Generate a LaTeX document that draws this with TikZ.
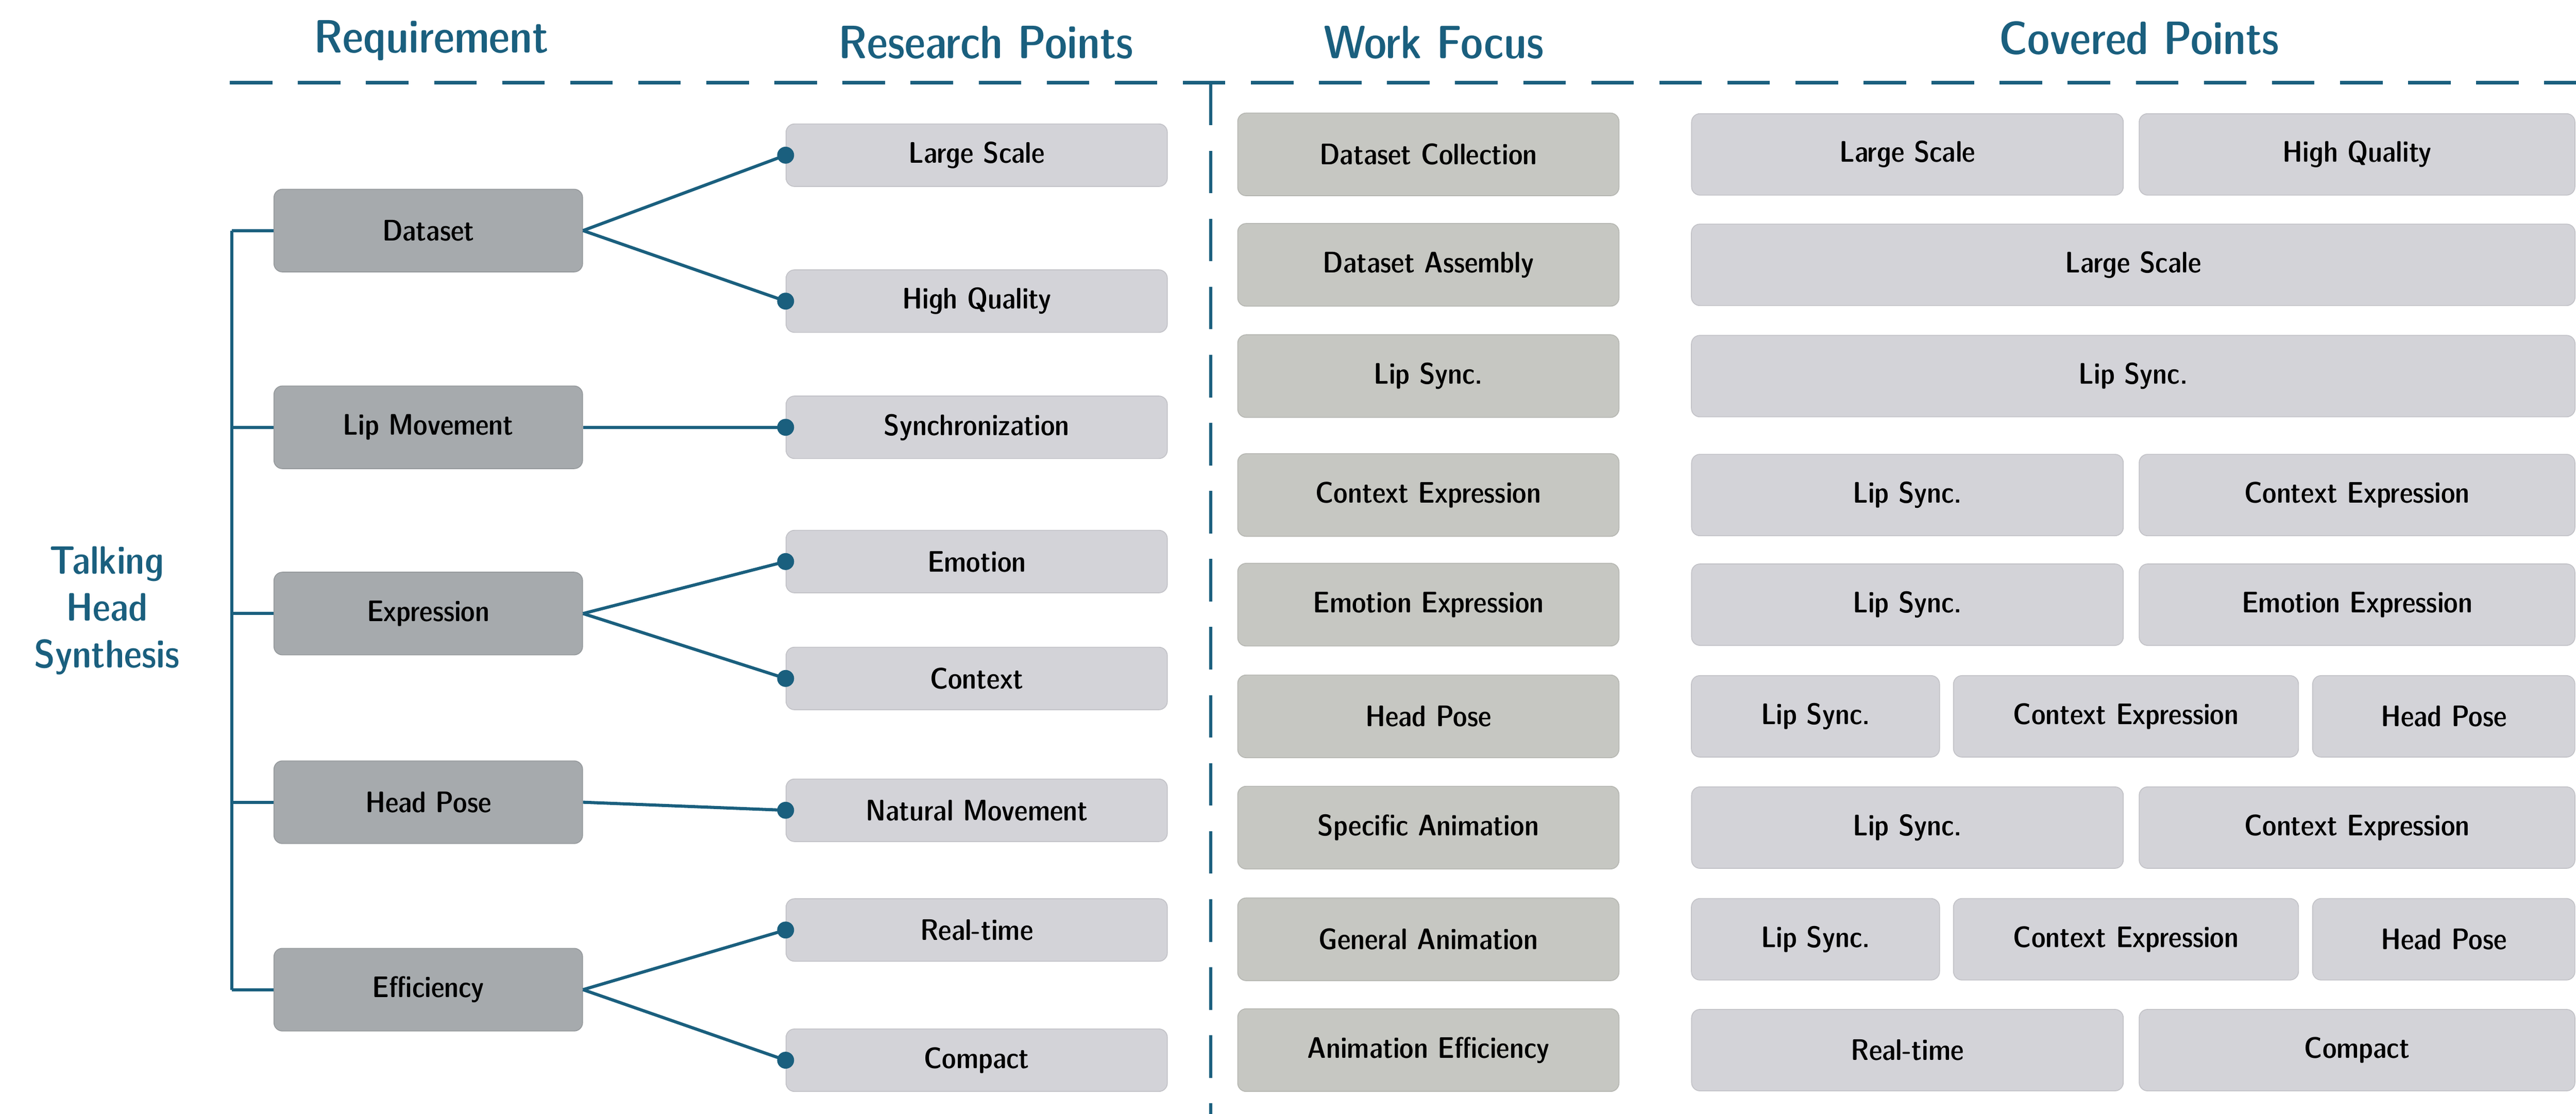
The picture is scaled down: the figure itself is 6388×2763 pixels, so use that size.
\documentclass[tikz,border=0pt]{standalone}
\usepackage{xcolor}
\usepackage{tikz}
\usetikzlibrary{positioning}

\definecolor{teal1}{HTML}{1A5F7E}
\definecolor{reqgray}{HTML}{A6AAAD}
\definecolor{ptgray}{HTML}{D3D3D8}
\definecolor{wkgray}{HTML}{C6C7C2}

\tikzset{
    box/.style={rounded corners=6pt, inner sep=0pt, align=center,
        font=\fontsize{21}{25}\sffamily\fontseries{sbc}\selectfont},
    reqbox/.style={box, fill=reqgray, draw=reqgray!90!black, line width=0.6pt,
        minimum width=7.65cm, minimum height=2.05cm},
    ptbox/.style={box, fill=ptgray, draw=ptgray!92!black, line width=0.6pt,
        minimum width=9.45cm, minimum height=1.55cm},
    wkbox/.style={box, fill=wkgray, draw=wkgray!92!black, line width=0.6pt,
        minimum width=9.45cm, minimum height=2.05cm},
    covbox/.style={box, fill=ptgray, draw=ptgray!92!black, line width=0.6pt,
        minimum height=2.02cm},
    header/.style={text=teal1, font=\fontsize{33}{38}\sffamily\fontseries{sbc}\selectfont},
    link/.style={teal1, line width=2.2pt},
    dot/.style={circle, fill=teal1, inner sep=0pt, minimum size=0.42cm}
}

\begin{document}
\begin{tikzpicture}[x=0.01cm,y=-0.01cm]
    \useasboundingbox (0,0) rectangle (6388,2763);
    % headers
    \node[header] (hreq) at (1070,100) {Requirement};
    \node[header] (hres) at (2445,105) {Research Points};
    \node[header] (hwork) at (3555,105) {Work Focus};
    \node[header] (hcov) at (5305,95) {Covered Points};
    \coordinate (hl) at (570,205);
    \coordinate (hr) at (6388,205);
    \coordinate (vt) at (3002,205);
    \coordinate (vb) at (3002,2763);
    \draw[teal1, line width=2.8pt, dash pattern=on 30pt off 18pt] (hl) -- (hr);
    \draw[teal1, line width=2pt, dash pattern=on 30pt off 18pt] (vt) -- (vb);

    % root
    \node[text=teal1, align=center, font=\fontsize{28}{33}\sffamily\fontseries{sbc}\selectfont]
        (root) at (265,1515) {Talking\\Head\\Synthesis};

    % requirements
    \node[reqbox] (dataset) at (1062,572) {Dataset};
    \node[reqbox] (lip) at (1062,1060) {Lip Movement};
    \node[reqbox] (expr) at (1062,1522) {Expression};
    \node[reqbox] (pose) at (1062,1990) {Head Pose};
    \node[reqbox] (eff) at (1062,2455) {Efficiency};
    \coordinate (trtop) at (575,572);
    \coordinate (trbot) at (575,2455);
    \draw[link] (trtop) -- (trbot);
    \foreach \r in {dataset,lip,expr,pose,eff}
        \draw[link] (\r.west) -- (\r.west -| trtop);

    % research points
    \node[ptbox] (large) at (2422,385) {Large Scale};
    \node[ptbox] (high) at (2422,747) {High Quality};
    \node[ptbox] (sync) at (2422,1060) {Synchronization};
    \node[ptbox] (emo) at (2422,1393) {Emotion};
    \node[ptbox] (ctx) at (2422,1683) {Context};
    \node[ptbox] (nat) at (2422,2010) {Natural Movement};
    \node[ptbox] (rt) at (2422,2307) {Real-time};
    \node[ptbox] (comp) at (2422,2630) {Compact};
    \foreach \a/\b in {dataset/large,dataset/high,lip/sync,expr/emo,expr/ctx,pose/nat,eff/rt,eff/comp}{
        \draw[link] (\a.east) -- (\b.west);
        \node[dot] at (\b.west) {};
    }

    % work focus
    \node[wkbox] (w1) at (3542,383) {Dataset Collection};
    \node[wkbox] (w2) at (3542,657) {Dataset Assembly};
    \node[wkbox] (w3) at (3542,933) {Lip Sync.};
    \node[wkbox] (w4) at (3542,1228) {Context Expression};
    \node[wkbox] (w5) at (3542,1500) {Emotion Expression};
    \node[wkbox] (w6) at (3542,1777) {Head Pose};
    \node[wkbox] (w7) at (3542,2053) {Specific Animation};
    \node[wkbox] (w8) at (3542,2330) {General Animation};
    \node[wkbox] (w9) at (3542,2605) {Animation Efficiency};

    % covered points
    \node[covbox, minimum width=10.7cm] (c1a) at (4730,383) {Large Scale};
    \node[covbox, minimum width=10.8cm] (c1b) at (5845,383) {High Quality};
    \node[covbox, minimum width=21.9cm] (c2) at (5290,657) {Large Scale};
    \node[covbox, minimum width=21.9cm] (c3) at (5290,933) {Lip Sync.};
    \node[covbox, minimum width=10.7cm] (c4a) at (4730,1228) {Lip Sync.};
    \node[covbox, minimum width=10.8cm] (c4b) at (5845,1228) {Context Expression};
    \node[covbox, minimum width=10.7cm] (c5a) at (4730,1500) {Lip Sync.};
    \node[covbox, minimum width=10.8cm] (c5b) at (5845,1500) {Emotion Expression};
    \node[covbox, minimum width=6.15cm] (c6a) at (4502,1777) {Lip Sync.};
    \node[covbox, minimum width=8.55cm] (c6b) at (5272,1777) {Context Expression};
    \node[covbox, minimum width=6.5cm] (c6c) at (6060,1777) {Head Pose};
    \node[covbox, minimum width=10.7cm] (c7a) at (4730,2053) {Lip Sync.};
    \node[covbox, minimum width=10.8cm] (c7b) at (5845,2053) {Context Expression};
    \node[covbox, minimum width=6.15cm] (c8a) at (4502,2330) {Lip Sync.};
    \node[covbox, minimum width=8.55cm] (c8b) at (5272,2330) {Context Expression};
    \node[covbox, minimum width=6.5cm] (c8c) at (6060,2330) {Head Pose};
    \node[covbox, minimum width=10.7cm] (c9a) at (4730,2605) {Real-time};
    \node[covbox, minimum width=10.8cm] (c9b) at (5845,2605) {Compact};
\end{tikzpicture}
\end{document}
